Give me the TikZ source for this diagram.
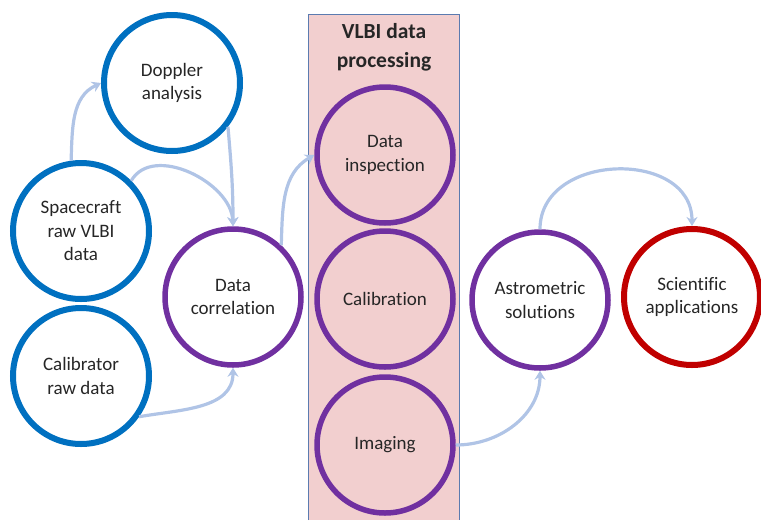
\documentclass[tikz,border=0pt]{standalone}
\usepackage{fontspec}
\setmainfont{Carlito}[Ligatures=NoCommon]
\usetikzlibrary{arrows.meta}

\definecolor{stepblue}{HTML}{0070C0}
\definecolor{steppurple}{HTML}{7030A0}
\definecolor{stepred}{HTML}{C00000}
\definecolor{flowblue}{HTML}{B0C4E6}
\definecolor{boxpink}{HTML}{F2CFCF}
\definecolor{boxedge}{HTML}{5B7BB0}
\definecolor{textgray}{HTML}{262626}

\begin{document}
\begin{tikzpicture}[%
  x=1pt, y=-1pt,
  stage/.style = {circle, draw, line width=6pt, minimum size=136pt, inner sep=0pt,
                  align=center, text=textgray, font=\fontsize{19}{23.5}\selectfont},
  input/.style = {stage, draw=stepblue},
  proc/.style  = {stage, draw=steppurple, line width=5.5pt},
  goal/.style  = {stage, draw=stepred},
  flow/.style  = {draw=flowblue, line width=3.2pt},
  >={Stealth[length=9pt,width=11pt]},
]
  \useasboundingbox (0,0) rectangle (761,520);

  % processing block
  \fill[boxpink] (308,14) rectangle (459,520);
  \draw[boxedge, line width=0.8pt] (308,520) |- (459,14) -- (459,520);
  \node[font=\bfseries\fontsize{21.5}{29}\selectfont, align=center, text=textgray]
    (title) at (384,47) {VLBI data\\processing};

  \node[input] (doppler)     at (172,83)  {Doppler\\analysis};
  \node[input] (spacecraft)  at (81,231)  {Spacecraft\\raw VLBI\\data};
  \node[input] (calibrator)  at (81,376)  {Calibrator\\raw data};
  \node[proc]  (correlation) at (233,297) {Data\\correlation};

  \node[proc]  (inspection)  at (385,155) {Data\\inspection};
  \node[proc]  (calibration) at (385,299) {Calibration};
  \node[proc]  (imaging)     at (385,445) {Imaging};

  \node[proc]  (astrometric) at (540,300) {Astrometric\\solutions};
  \node[goal]  (scientific)  at (692,297) {Scientific\\applications};

  \draw[flow,->] (spacecraft.98) to[out=88, in=205] (doppler.180);
  \draw[flow,->] (doppler.-38) to[out=-85, in=90] (correlation.90);
  \draw[flow,->] (spacecraft.45) to[out=60, in=92] (correlation.90);
  \draw[flow,->] (calibrator.-35) to[out=10, in=-90] (correlation.-90);
  \draw[flow,->] (correlation.47) to[out=88, in=210] (inspection.180);
  \draw[flow,->] (imaging.0) to[out=0, in=-90] (astrometric.-90);
  \draw[flow,->] (astrometric.90) to[out=90, in=90, looseness=1.3] (scientific.90);

\end{tikzpicture}
\end{document}
